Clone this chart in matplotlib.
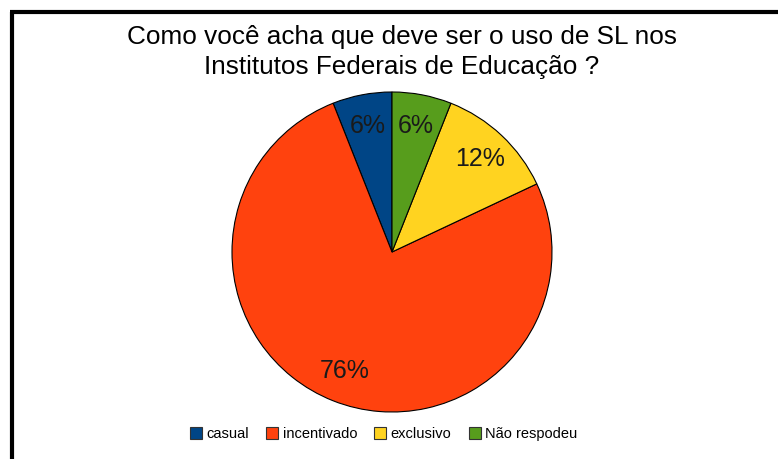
import matplotlib.pyplot as plt
from matplotlib.lines import Line2D

plt.rcParams['font.family'] = ['Liberation Sans', 'DejaVu Sans']

labels = ['casual', 'incentivado', 'exclusivo', 'Não respodeu']
percents = [6, 76, 12, 6]
colors = ['#004586', '#ff420e', '#ffd320', '#579d1c']
title = 'Como você acha que deve ser o uso de SL nos\nInstitutos Federais de Educação ?'

fig = plt.figure(figsize=(7.78, 4.59), dpi=100)

# pie centred at (392, 252) px, radius ~160 px
ax = fig.add_axes([(392 - 160) / 778, 1 - (252 + 160) / 459, 320 / 778, 320 / 459])
wedges, texts, autotexts = ax.pie(
    percents, colors=colors, startangle=90, counterclock=True,
    autopct=lambda p: f'{p:.0f}%', pctdistance=0.8,
    wedgeprops=dict(edgecolor='black', linewidth=0.8),
    textprops=dict(fontsize=18, color='#1a1a1a'))
ax.set_xlim(-1, 1)
ax.set_ylim(-1, 1)
ax.set_aspect('equal')

fig.text(402 / 778, 1 - 52 / 459, title, ha='center', va='center',
         fontsize=18.8, linespacing=1.35, color='black')

handles = [Line2D([], [], marker='s', linestyle='none', markersize=9,
                  markerfacecolor=c, markeredgecolor='#333333', markeredgewidth=0.8)
           for c in colors]
fig.legend(handles, labels, loc='center', bbox_to_anchor=(383 / 778, 1 - 434 / 459),
           ncol=4, frameon=False, fontsize=10.5, handletextpad=0.2,
           columnspacing=1.1, handlelength=1.0)

# partial frame (cut off on right and bottom)
fig.add_artist(Line2D([11.5 / 778, 11.5 / 778], [0, 1 - 12 / 459], color='black',
                      linewidth=3, transform=fig.transFigure, solid_capstyle='butt'))
fig.add_artist(Line2D([10 / 778, 1], [1 - 12 / 459, 1 - 12 / 459], color='black',
                      linewidth=3, transform=fig.transFigure, solid_capstyle='butt'))

fig.savefig('out.png', dpi=100, facecolor='white')
